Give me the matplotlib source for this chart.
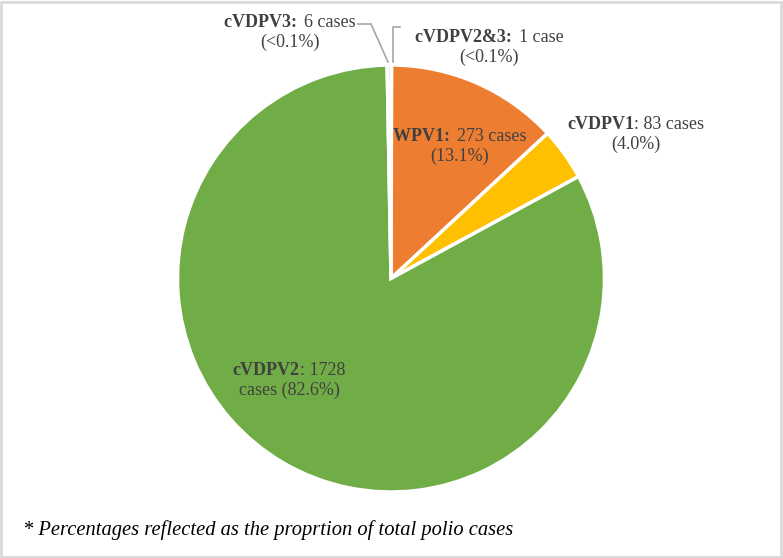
import matplotlib.pyplot as plt
from matplotlib.lines import Line2D
from matplotlib.patches import Rectangle

# data, clockwise from 12 o'clock
names = ["cVDPV2&3", "WPV1", "cVDPV1", "cVDPV2", "cVDPV3"]
cases = [1, 273, 83, 1728, 6]
colors = ["#4472C4", "#ED7D31", "#FFC000", "#70AD47", "#A5A5A5"]
# each label: list of lines, each line = (bold part, regular part)
label_lines = [
    [("cVDPV2&3: ", "1 case"), ("", "(<0.1%)")],
    [("WPV1: ", "273 cases"), ("", "(13.1%)")],
    [("cVDPV1", ": 83 cases"), ("", "(4.0%)")],
    [("cVDPV2", ": 1728"), ("", "cases (82.6%)")],
    [("cVDPV3: ", "6 cases"), ("", "(<0.1%)")],
]
note = "* Percentages reflected as the proprtion of total polio cases"

plt.rcParams['font.family'] = 'Liberation Serif'

W, H = 783, 558
fig = plt.figure(figsize=(W / 100, H / 100), dpi=100)

cx, cy, r = 391, 278.5, 213.5
ax = fig.add_axes([(cx - r) / W, (H - cy - r) / H, 2 * r / W, 2 * r / H])
ax.pie(cases, colors=colors, startangle=90, counterclock=False, radius=1,
       wedgeprops=dict(edgecolor="white", linewidth=2.5))
ax.set_xlim(-1, 1)
ax.set_ylim(-1, 1)
ax.set_aspect("equal")
ax.axis("off")

renderer = fig.canvas.get_renderer()


def draw_line(x, y, bold, reg, size=13):
    # draws "bold" + "reg" centred on pixel x, baseline at pixel y
    tb = fig.text(0, 0, bold, fontsize=size, fontweight="bold", color="#404040",
                  ha="left", va="baseline")
    tr = fig.text(0, 0, reg, fontsize=size, color="#404040", ha="left", va="baseline")
    wb = tb.get_window_extent(renderer).width if bold else 0
    if bold.endswith(" "):
        wb += 2.5  # trailing space is dropped from the measured extent
    wr = tr.get_window_extent(renderer).width
    x0 = x - (wb + wr) / 2
    tb.set_position((x0 / W, 1 - y / H))
    tr.set_position(((x0 + wb) / W, 1 - y / H))


label_pos = [(489, 42), (460, 141), (636, 129), (289, 375), (290, 27)]
line_gap = 19.5
for lines, (x, y) in zip(label_lines, label_pos):
    for i, (b, rg) in enumerate(lines):
        draw_line(x, y + i * line_gap, b, rg)

# leader lines for the two tiny slices
for xs, ys in [([358, 371, 388], [24, 24, 62]), ([400, 393, 393], [27, 27, 62])]:
    fig.add_artist(Line2D([x / W for x in xs], [1 - y / H for y in ys],
                          color="#A6A6A6", linewidth=1.2))

fig.text(23 / W, 1 - 535 / H, note, ha="left", va="baseline", fontsize=14.8,
         style="italic", color="black")

fig.add_artist(Rectangle((0.001, 0.002), 0.996, 0.995, transform=fig.transFigure,
                         fill=False, edgecolor="#D9D9D9", linewidth=2))

fig.savefig("out.png", dpi=100)
